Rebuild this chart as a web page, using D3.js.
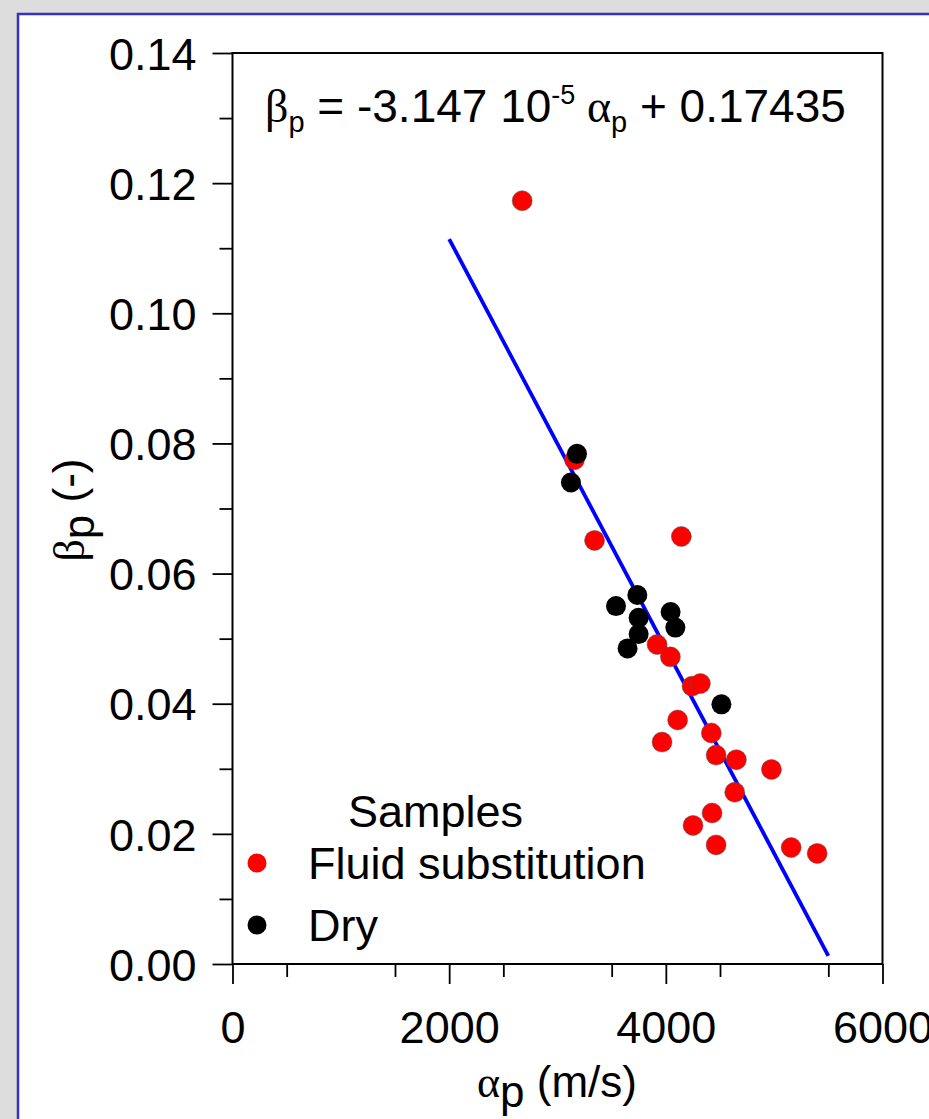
<!DOCTYPE html>
<html>
<head>
<meta charset="utf-8">
<script src="https://cdn.jsdelivr.net/npm/d3@7"></script>
<style>
  html, body { margin: 0; padding: 0; background: #dddddd; }
  svg { display: block; }
  text { font-family: "Liberation Sans", Arial, sans-serif; fill: #000; }
</style>
</head>
<body>
<svg id="chart"></svg>
<script>
// samples: alpha_p (m/s), beta_p (-)
const fluidAlpha = [2674, 3157, 3342, 4143, 3919, 4042, 4242, 4319, 4109, 3965, 4420, 4464, 4651, 4975, 4636, 4427, 4251, 4464, 5157, 5397];
const fluidBeta  = [0.1173, 0.0775, 0.0651, 0.0657, 0.0491, 0.0472, 0.0427, 0.0431, 0.0375, 0.0341, 0.0355, 0.0321, 0.0314, 0.0299, 0.0264, 0.0232, 0.0213, 0.0183, 0.0179, 0.0170];
const dryAlpha = [3180, 3124, 3737, 3540, 3749, 4044, 4088, 3749, 3647, 4513];
const dryBeta  = [0.0784, 0.0740, 0.0567, 0.0550, 0.0532, 0.0541, 0.0517, 0.0507, 0.0485, 0.0399];

// fit: beta = slope * alpha + intercept, drawn from 2000 to 5500
const slope = -3.147e-5;
const intercept = 0.17435;
const fitRange = [2000, 5500];

const xTicks = [0, 2000, 4000, 6000];
const yTicks = [0, 0.02, 0.04, 0.06, 0.08, 0.10, 0.12, 0.14];
const legendItems = ["Fluid substitution", "Dry"];
const legendColors = ["#ff0000", "#000000"];

const width = 929, height = 1119;
const svg = d3.select("#chart").attr("width", width).attr("height", height);

// white panel with blue border
svg.append("rect")
    .attr("x", 18).attr("y", 14)
    .attr("width", width).attr("height", height)
    .attr("fill", "#fff")
    .attr("stroke", "#3333cc")
    .attr("stroke-width", 2.5);

const x = d3.scaleLinear().domain([0, 6000]).range([232.5, 882.5]);
const y = d3.scaleLinear().domain([0, 0.14]).range([964, 53]);

// minor ticks
const xAxis = svg.append("g")
    .attr("transform", `translate(0,${y(0)})`)
    .call(d3.axisBottom(x).tickValues(d3.range(500, 6000, 1000)).tickSize(13).tickFormat(""));
const xAxisMajor = svg.append("g")
    .attr("transform", `translate(0,${y(0)})`)
    .call(d3.axisBottom(x).tickValues(xTicks).tickSize(20).tickSizeOuter(0)
        .tickFormat(d3.format("d")));
const yAxis = svg.append("g")
    .attr("transform", `translate(${x(0)},0)`)
    .call(d3.axisLeft(y).tickValues(d3.range(0.01, 0.14, 0.02)).tickSize(13).tickFormat(""));
const yAxisMajor = svg.append("g")
    .attr("transform", `translate(${x(0)},0)`)
    .call(d3.axisLeft(y).tickValues(yTicks).tickSize(20).tickSizeOuter(0)
        .tickFormat(d3.format(".2f")));

[xAxis, xAxisMajor, yAxis, yAxisMajor].forEach(g => {
    g.select(".domain").remove();
    g.selectAll("line").attr("stroke", "#000").attr("stroke-width", 1.8);
});
xAxisMajor.selectAll("text")
    .attr("font-size", 45).attr("font-family", "Liberation Sans, Arial, sans-serif")
    .attr("fill", "#000").attr("dy", null).attr("y", 79);
yAxisMajor.selectAll("text")
    .attr("font-size", 45).attr("font-family", "Liberation Sans, Arial, sans-serif")
    .attr("fill", "#000").attr("dy", "0.36em").attr("x", -36);

// frame
svg.append("rect")
    .attr("x", x(0)).attr("y", y(0.14))
    .attr("width", x(6000) - x(0)).attr("height", y(0) - y(0.14))
    .attr("fill", "none").attr("stroke", "#000").attr("stroke-width", 2);

// fit line
svg.append("line")
    .attr("x1", x(fitRange[0])).attr("y1", y(slope * fitRange[0] + intercept))
    .attr("x2", x(fitRange[1])).attr("y2", y(slope * fitRange[1] + intercept))
    .attr("stroke", "#0000ff").attr("stroke-width", 3.8);

// points: fluid first, dry on top
svg.append("g").selectAll("circle")
    .data(fluidAlpha.map((a, i) => [a, fluidBeta[i]]))
    .join("circle")
    .attr("cx", d => x(d[0])).attr("cy", d => y(d[1])).attr("r", 10)
    .attr("fill", "#ff0000").attr("stroke", "#555").attr("stroke-width", 0.5);
svg.append("g").selectAll("circle")
    .data(dryAlpha.map((a, i) => [a, dryBeta[i]]))
    .join("circle")
    .attr("cx", d => x(d[0])).attr("cy", d => y(d[1])).attr("r", 10)
    .attr("fill", "#000000");

// equation
const eq = svg.append("text").attr("x", 265).attr("y", 122).attr("font-size", 46);
eq.append("tspan").attr("font-family", "Liberation Serif, serif").text("β");
eq.append("tspan").attr("font-size", 29).attr("dy", 10).text("p");
eq.append("tspan").attr("dy", -10).text(" = -3.147 10");
eq.append("tspan").attr("font-size", 27).attr("dy", -18).text("-5");
eq.append("tspan").attr("dy", 18).attr("font-family", "Liberation Serif, serif").text(" α");
eq.append("tspan").attr("font-size", 29).attr("dy", 10).text("p");
eq.append("tspan").attr("dy", -10).text(" + 0.17435");

// axis titles
const xt = svg.append("text").attr("x", 557).attr("y", 1097)
    .attr("text-anchor", "middle").attr("font-size", 44);
xt.append("tspan").attr("font-family", "Liberation Serif, serif").text("α");
xt.append("tspan").attr("dy", 10).text("p");
xt.append("tspan").attr("dy", -10).text(" (m/s)");

const yt = svg.append("text")
    .attr("transform", "translate(84,510) rotate(-90)")
    .attr("text-anchor", "middle").attr("font-size", 44);
yt.append("tspan").attr("font-family", "Liberation Serif, serif").text("β");
yt.append("tspan").attr("dy", 10).text("p");
yt.append("tspan").attr("dy", -10).text(" (-)");

// legend
const legend = svg.append("g");
legend.append("text").attr("x", 348).attr("y", 827).attr("font-size", 45).text("Samples");
legendItems.forEach((name, i) => {
    const cy = 863 + i * 62;
    legend.append("circle").attr("cx", 257).attr("cy", cy).attr("r", 9.5).attr("fill", legendColors[i]);
    legend.append("text").attr("x", 308).attr("y", cy + 16).attr("font-size", 45).text(name);
});
</script>
</body>
</html>
